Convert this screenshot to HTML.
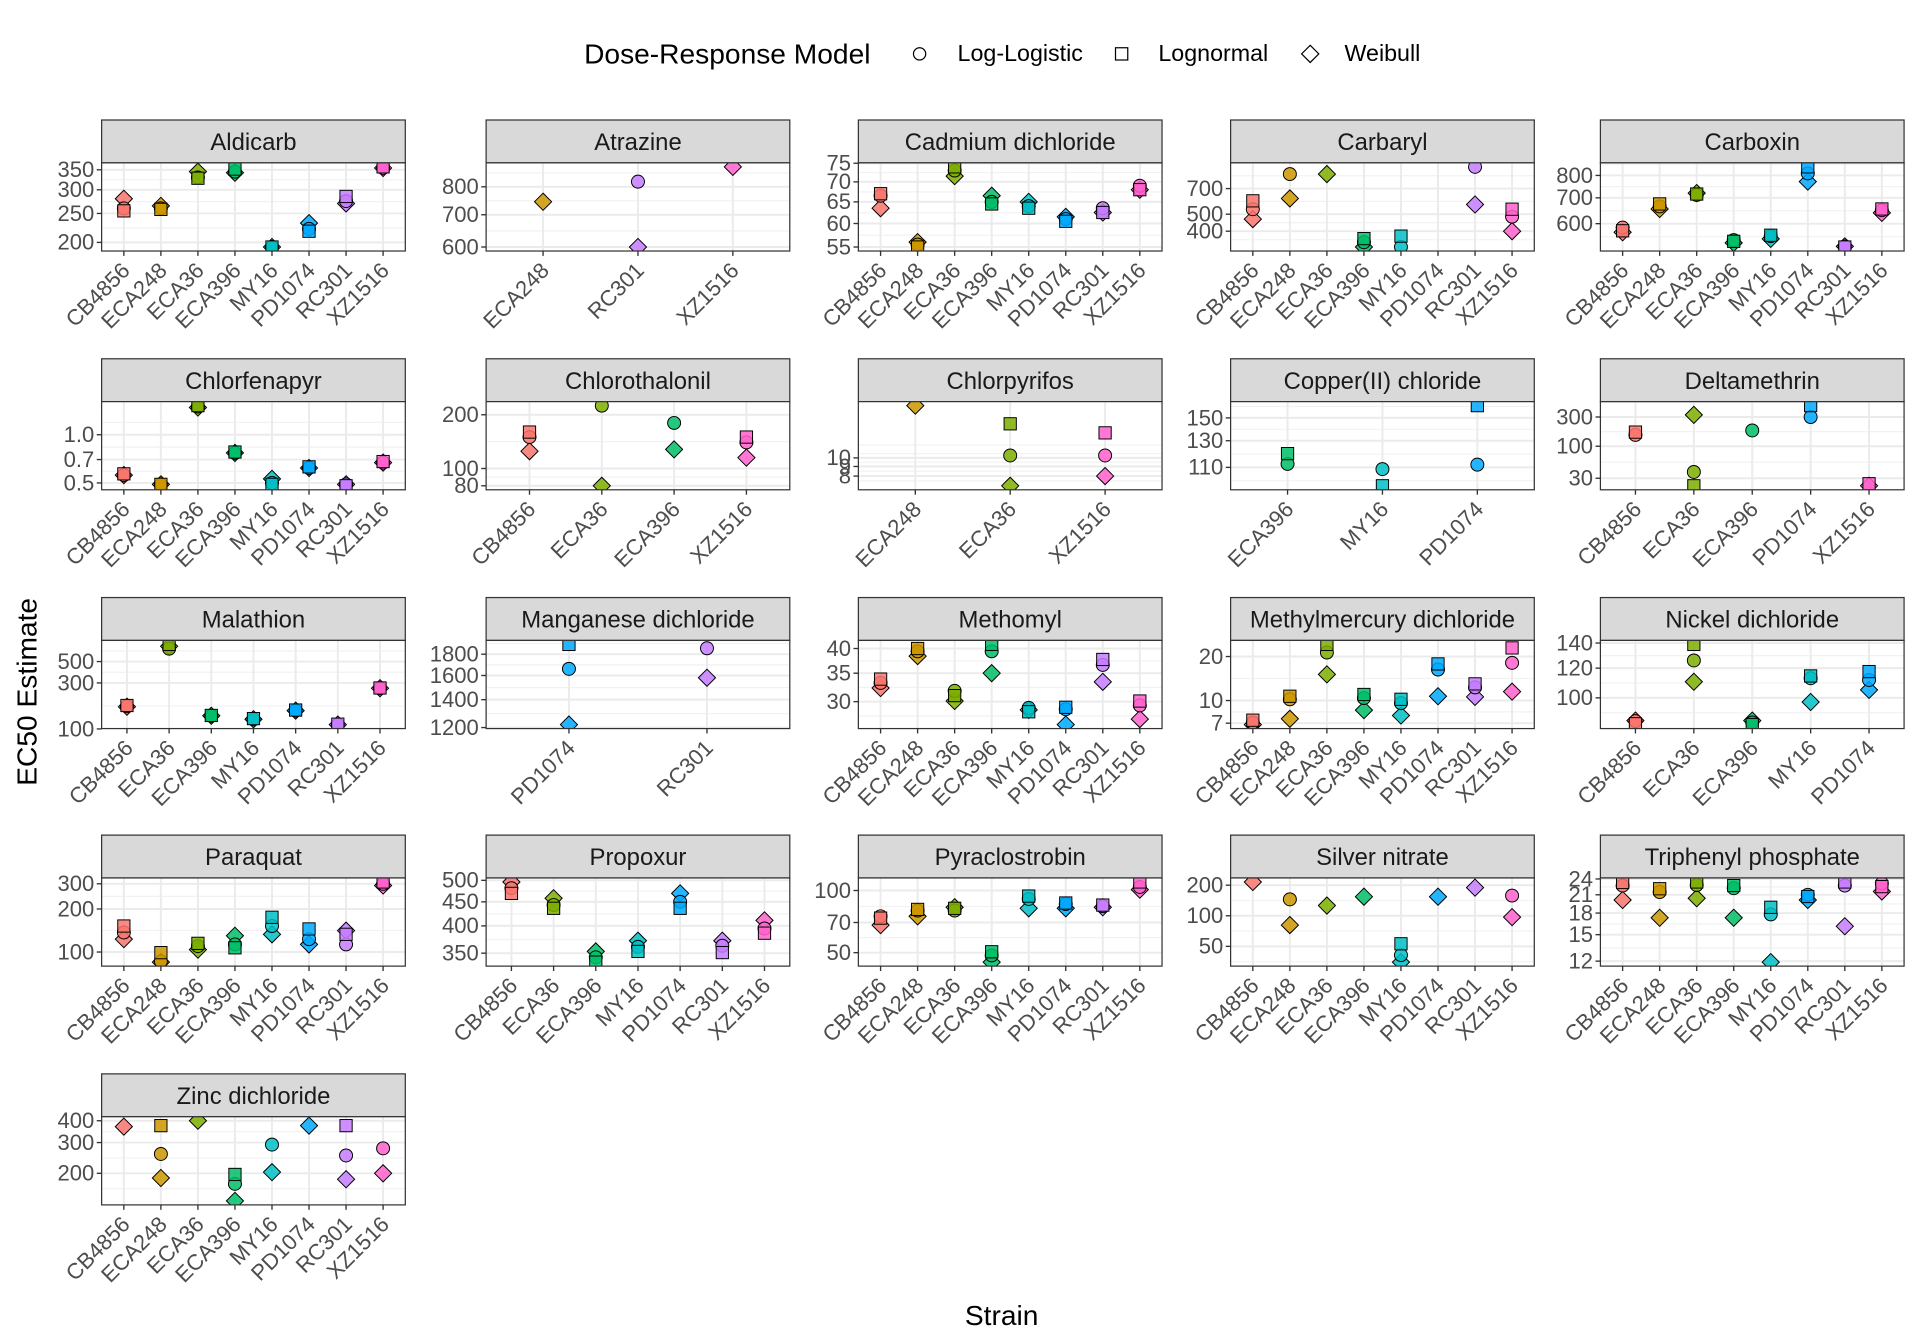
<!DOCTYPE html>
<html><head><meta charset="utf-8"><title>EC50 Estimates</title>
<style>
html,body{margin:0;padding:0;background:#fff;}
svg{display:block;font-family:"Liberation Sans",Arial,sans-serif;}
</style></head>
<body>
<svg id="chart" width="1920" height="1344" viewBox="0 0 1568 1097.6" xmlns="http://www.w3.org/2000/svg">
  <g>
    <text x="477" y="52" font-size="23" fill="#000">Dose-Response Model</text>
    <g>
      <circle cx="751" cy="44" r="5" fill="none" stroke="#000" stroke-width="1"/>
      <text x="782" y="50" font-size="19" fill="#000">Log-Logistic</text>
    </g>
    <g>
      <rect x="911" y="39" width="10" height="10" fill="none" stroke="#000" stroke-width="1"/>
      <text x="946" y="50" font-size="19" fill="#000">Lognormal</text>
    </g>
    <g>
      <polygon points="1070,37 1077,44 1070,51 1063,44" fill="none" stroke="#000" stroke-width="1"/>
      <text x="1098" y="50" font-size="19" fill="#000">Weibull</text>
    </g>
  </g>
  <text transform="translate(30,565) rotate(-90)" text-anchor="middle" font-size="23" fill="#000">EC50 Estimate</text>
  <text x="818" y="1082" text-anchor="middle" font-size="23" fill="#000">Strain</text>
  <g id="panels"></g>
</svg>
<script>
const chemicals = ["Aldicarb","Atrazine","Cadmium dichloride","Carbaryl","Carboxin","Chlorfenapyr","Chlorothalonil","Chlorpyrifos","Copper(II) chloride","Deltamethrin","Malathion","Manganese dichloride","Methomyl","Methylmercury dichloride","Nickel dichloride","Paraquat","Propoxur","Pyraclostrobin","Silver nitrate","Triphenyl phosphate","Zinc dichloride"];
const ALL8 = ["CB4856","ECA248","ECA36","ECA396","MY16","PD1074","RC301","XZ1516"];
const strainsByPanel = [
  ALL8,
  ["ECA248","RC301","XZ1516"],
  ALL8, ALL8, ALL8, ALL8,
  ["CB4856","ECA36","ECA396","XZ1516"],
  ["ECA248","ECA36","XZ1516"],
  ["ECA396","MY16","PD1074"],
  ["CB4856","ECA36","ECA396","PD1074","XZ1516"],
  ["CB4856","ECA36","ECA396","MY16","PD1074","RC301","XZ1516"],
  ["PD1074","RC301"],
  ALL8, ALL8,
  ["CB4856","ECA36","ECA396","MY16","PD1074"],
  ALL8,
  ["CB4856","ECA36","ECA396","MY16","PD1074","RC301","XZ1516"],
  ALL8, ALL8, ALL8, ALL8
];
const logLogistic = [
  [260,260,330,345,193,222,275,355],
  [null,820,null],
  [66.5,55.5,73,65,64,61,63.5,69],
  [534,847,null,346,325,null,931,484],
  [586,665,712,544,557,810,524,650],
  [0.56,0.49,1.5,0.77,0.5,0.62,0.49,0.67],
  [150,225,180,140],
  [null,10.3,10.3],
  [112.4,108.8,111.9],
  [153,38,181,300,null],
  [172,680,137,126,155,111,264],
  [1660,1860],
  [33.2,39.4,31.8,39.4,29.0,28.8,36.6,29.4],
  [7.07,10.2,21.3,10.4,9.6,16.3,12.3,18.1],
  [86.7,125.8,86,112.8,111.6],
  [137,86,110,113,152,123,113,300],
  [481,443,343,361,450,363,395],
  [75,80,80,48.5,91,86,84,104],
  [null,145,null,null,41,null,null,158],
  [22.7,21.5,22.8,22.2,17.8,21,22.7,23.1],
  [null,258,null,174,292,null,253,278]
];
const lognormal = [
  [255,258,328,352,193,218,285,358],
  [null,null,null],
  [67,55,74,64.5,63.5,60.5,62.5,68],
  [596,null,null,363,375,null,null,534],
  [575,675,716,540,560,842,522,655],
  [0.57,0.49,1.52,0.78,0.49,0.63,0.48,0.68],
  [160,null,null,150],
  [null,15.2,13.6],
  [119.9,98,162],
  [170,22.6,null,460,24.4],
  [175,753,138,128,157,112,266],
  [1900,null],
  [33.9,40.0,31.0,40.9,28.4,29.1,37.7,30.1],
  [7.34,10.7,24.2,11.0,10.2,17.8,13.0,22.9],
  [85.3,138.8,84.9,114.4,117.5],
  [152,99,115,107,175,145,133,309],
  [469,436,335,353,436,351,386],
  [73.5,81,82,50.5,94,87,85,110],
  [null,null,null,null,53,null,null,null],
  [23.3,22.1,23.4,22.7,18.9,20.7,23.4,22.5],
  [null,375,null,197,null,null,375,null]
];
const weibull = [
  [280,265,345,342,193,232,270,355],
  [745,600,880],
  [63.5,56,71.5,66.5,65,61.5,62.5,68],
  [469,615,847,325,null,null,568,400],
  [570,655,720,535,548,771,524,640],
  [0.56,0.49,1.48,0.77,0.53,0.62,0.49,0.67],
  [125,80,128,115],
  [19,7.1,8],
  [null,null,null],
  [null,325,null,null,22.6],
  [170,720,137,126,155,111,264],
  [1220,1580],
  [32.3,38.4,30.1,35,28.7,26.5,33.4,27.3],
  [6.85,7.5,15.1,8.6,7.9,10.7,10.6,11.5],
  [87,110.4,87,97.5,105],
  [123,85,104,130,133,113,141,292],
  [496,458,353,372,469,372,411],
  [68,75,83,45,82,82,83,101],
  [215,81,126,154,35,154,189,97],
  [20.1,17.3,20.4,17.3,11.9,20.1,16.1,21.6],
  [370,188,400,139,203,375,185,200]
];
const yTicks = [
  [200,250,300,350],[600,700,800],[55,60,65,70,75],[400,500,700],[600,700,800],
  [0.5,0.7,1.0],[80,100,200],[8,9,10],[110,130,150],[30,100,300],
  [100,300,500],[1200,1400,1600,1800],[30,35,40],[7,10,20],[100,120,140],
  [100,200,300],[350,400,450,500],[50,70,100],[50,100,200],[12,15,18,21,24],
  [200,300,400]
];
const yTickLabels = [
  ["200","250","300","350"],["600","700","800"],["55","60","65","70","75"],["400","500","700"],["600","700","800"],
  ["0.5","0.7","1.0"],["80","100","200"],["8","9","10"],["110","130","150"],["30","100","300"],
  ["100","300","500"],["1200","1400","1600","1800"],["30","35","40"],["7","10","20"],["100","120","140"],
  ["100","200","300"],["350","400","450","500"],["50","70","100"],["50","100","200"],["12","15","18","21","24"],
  ["200","300","400"]
];
const strainColors = {CB4856:"#F8766D",ECA248:"#CD9600",ECA36:"#7CAE00",ECA396:"#00BE67",MY16:"#00BFC4",PD1074:"#00A9FF",RC301:"#C77CFF",XZ1516:"#FF61CC"};

const NS = "http://www.w3.org/2000/svg";
const colX = [83,397,701,1005,1307];
const colW = 248;
const rowY = [98,293,488,682,877];
const stripH = 35, plotH = 72;
const root = document.getElementById("panels");
function mk(tag, attrs, parent){
  const e = document.createElementNS(NS, tag);
  for (const k in attrs) e.setAttribute(k, attrs[k]);
  parent.appendChild(e);
  return e;
}
function slug(s){return s.toLowerCase().replace(/[^a-z0-9]+/g,"-").replace(/^-|-$/g,"");}

chemicals.forEach((chem, p) => {
  const col = p % 5, row = Math.floor(p / 5);
  const x0 = colX[col], y0 = rowY[row] + stripH, w = colW, h = plotH;
  const strains = strainsByPanel[p];
  const series = [weibull[p], logLogistic[p], lognormal[p]];
  const vals = [];
  series.forEach(s => s.forEach(v => { if (v != null) vals.push(Math.log10(v)); }));
  let lo = Math.min(...vals), hi = Math.max(...vals);
  const ex = (hi - lo) * 0.05 || 0.05;
  lo -= ex; hi += ex;
  const yS = v => y0 + h - (Math.log10(v) - lo) / (hi - lo) * h;
  const unit = w / (strains.length - 1 + 1.2);
  const xS = i => x0 + (0.6 + i) * unit;

  const g = mk("g", {}, root);
  
  

  const strip = mk("g", {}, g);
  
  
  mk("rect", {x:x0, y:rowY[row], width:w, height:stripH, fill:"#D9D9D9", stroke:"#333", "stroke-width":1}, strip);
  const st = mk("text", {x:x0 + w/2, y:rowY[row] + 24.5, "text-anchor":"middle", "font-size":19.5, fill:"#1A1A1A"}, strip);
  st.textContent = chem;

  mk("rect", {x:x0, y:y0, width:w, height:h, fill:"#fff"}, g);
  const clipId = "clip" + p;
  const cp = mk("clipPath", {id:clipId}, g);
  mk("rect", {x:x0, y:y0, width:w, height:h}, cp);
  const grid = mk("g", {"clip-path":"url(#" + clipId + ")"}, g);
  
  
  const t = yTicks[p].map(v => Math.log10(v));
  const minors = [];
  for (let i = 0; i < t.length - 1; i++) minors.push((t[i] + t[i+1]) / 2);
  if (t.length > 1) {
    const d0 = t[1] - t[0], d1 = t[t.length-1] - t[t.length-2];
    minors.push(t[0] - d0/2); minors.push(t[t.length-1] + d1/2);
    minors.push(t[0] - d0*1.5); minors.push(t[t.length-1] + d1*1.5);
  }
  minors.forEach(m => {
    if (m > lo && m < hi) {
      const yy = y0 + h - (m - lo) / (hi - lo) * h;
      mk("line", {x1:x0, x2:x0+w, y1:yy, y2:yy, stroke:"#F2F2F2", "stroke-width":1}, grid);
    }
  });
  yTicks[p].forEach(v => {
    const yy = yS(v);
    mk("line", {x1:x0, x2:x0+w, y1:yy, y2:yy, stroke:"#EBEBEB", "stroke-width":1.6}, grid);
  });
  strains.forEach((s, i) => {
    mk("line", {x1:xS(i), x2:xS(i), y1:y0, y2:y0+h, stroke:"#EBEBEB", "stroke-width":1.6}, grid);
  });

  const pts = mk("g", {"clip-path":"url(#" + clipId + ")"}, g);
  
  
  const shapes = ["diamond","circle","square"];
  series.forEach((s, si) => {
    s.forEach((v, i) => {
      if (v == null) return;
      const cx = xS(i), cy = yS(v), col = strainColors[strains[i]];
      let el;
      if (shapes[si] === "circle") el = mk("circle", {cx:cx, cy:cy, r:5.3}, pts);
      else if (shapes[si] === "square") el = mk("rect", {x:cx-5, y:cy-5, width:10, height:10}, pts);
      else el = mk("polygon", {points:(cx)+","+(cy-7)+" "+(cx+7)+","+cy+" "+cx+","+(cy+7)+" "+(cx-7)+","+cy}, pts);
      el.setAttribute("fill", col);
      el.setAttribute("fill-opacity", "0.85");
      el.setAttribute("stroke", "#000");
      el.setAttribute("stroke-width", "0.8");
      
      
    });
  });

  mk("rect", {x:x0, y:y0, width:w, height:h, fill:"none", stroke:"#333", "stroke-width":1}, g);

  const ya = mk("g", {}, g);
  
  
  yTicks[p].forEach((v, i) => {
    const yy = yS(v);
    mk("line", {x1:x0-4, x2:x0, y1:yy, y2:yy, stroke:"#333", "stroke-width":1.1}, ya);
    const tx = mk("text", {x:x0-6, y:yy+6, "text-anchor":"end", "font-size":18, fill:"#4D4D4D"}, ya);
    tx.textContent = yTickLabels[p][i];
  });
  const xa = mk("g", {}, g);
  
  
  strains.forEach((s, i) => {
    const xx = xS(i);
    mk("line", {x1:xx, x2:xx, y1:y0+h, y2:y0+h+4, stroke:"#333", "stroke-width":1.1}, xa);
    const tx = mk("text", {transform:"translate(" + (xx+6) + "," + (y0+h+17) + ") rotate(-45)", "text-anchor":"end", "font-size":18, fill:"#4D4D4D"}, xa);
    tx.textContent = s;
  });
});
</script>
</body></html>
